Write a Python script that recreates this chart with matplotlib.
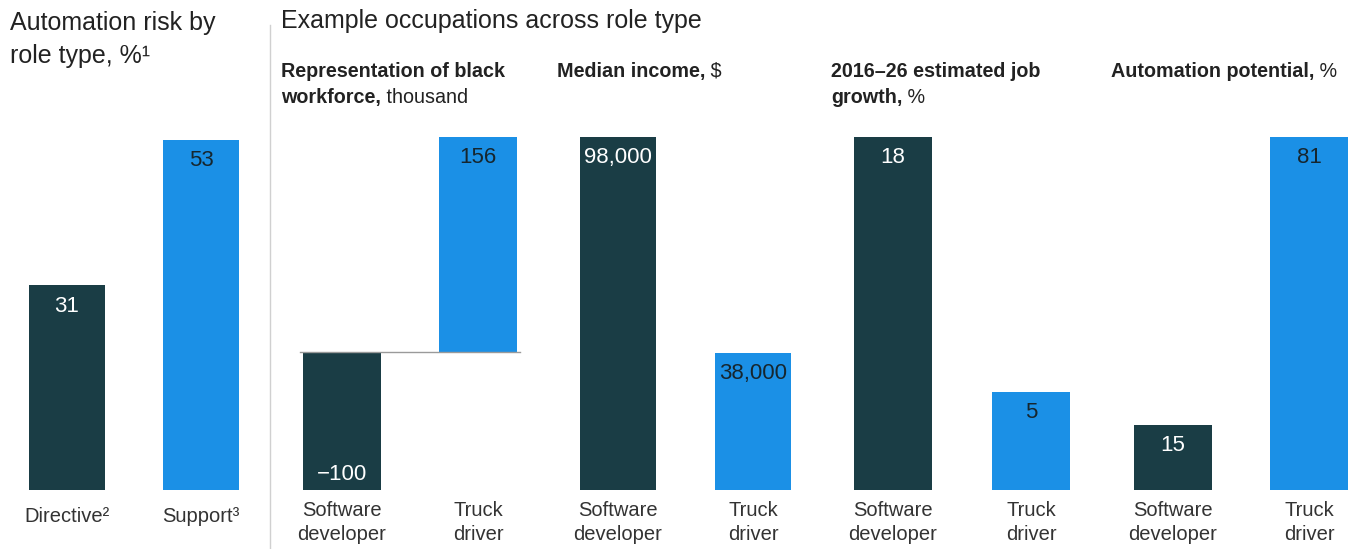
import matplotlib
matplotlib.use("Agg")
import matplotlib.pyplot as plt
from matplotlib.lines import Line2D

W, H = 1359, 549
DPI = 100
plt.rcParams['font.family'] = ['Liberation Sans', 'DejaVu Sans']

DARK = "#1a3d45"
BLUE = "#1b90e6"
INK = "#222222"
ON_BLUE = "#16262e"

# Left panel: automation risk by role type
role_types = ["Directive\u00b2", "Support\u00b3"]
role_risk = [31, 53]

# Example occupations
occupations = ["Software\ndeveloper", "Truck\ndriver"]
black_workforce = [-100, 156]
median_income = [98000, 38000]
job_growth = [18, 5]
automation_potential = [15, 81]

fig = plt.figure(figsize=(W / DPI, H / DPI), dpi=DPI)
fig.patch.set_facecolor("white")


def px_axes(center0, gap, top_px=137, base_px=490):
    width = 2 * gap
    left = center0 - gap / 2
    return fig.add_axes([left / W, (H - base_px) / H, width / W, (base_px - top_px) / H])


def fmt_value(v, thousands=False):
    s = f"{abs(v):,}" if thousands else f"{abs(v)}"
    return ("\u2212" + s) if v < 0 else s


def draw_panel(ax, labels, values, ylim, thousands=False, label_pad=8):
    colors = [DARK, BLUE]
    xs = list(range(len(values)))
    ax.bar(xs, values, width=0.57, color=colors, zorder=2)
    ax.set_xlim(-0.5, 1.5)
    ax.set_ylim(*ylim)
    ax.axis("off")
    for x, v, c in zip(xs, values, colors):
        tc = "white" if c == DARK else ON_BLUE
        dy = -15 if v >= 0 else 11
        ax.annotate(fmt_value(v, thousands), xy=(x, v), xytext=(0, dy),
                    textcoords="offset points", ha="center", va="center",
                    fontsize=16, color=tc)
    for x, lab in zip(xs, labels):
        ax.annotate(lab, xy=(x, 0), xycoords=ax.get_xaxis_transform(),
                    xytext=(0, -label_pad), textcoords="offset points",
                    ha="center", va="top", fontsize=14.5, color="#333333",
                    linespacing=1.35, annotation_clip=False)


# Panel 1
ax1 = px_axes(67, 134)
draw_panel(ax1, role_types, role_risk, (0, 53 * 353 / 350), label_pad=12)

# Panel 2
ax2 = px_axes(342, 136)
draw_panel(ax2, occupations, black_workforce, (min(black_workforce), max(black_workforce)))
ax2.plot([-0.31, 1.31], [0, 0], color="#9a9a9a", lw=1, zorder=3)

# Panel 3
ax3 = px_axes(618, 135)
draw_panel(ax3, occupations, median_income, (0, max(median_income)), thousands=True)

# Panel 4
ax4 = px_axes(893, 138)
draw_panel(ax4, occupations, job_growth, (0, max(job_growth)))

# Panel 5
ax5 = px_axes(1173, 136)
draw_panel(ax5, occupations, automation_potential, (0, max(automation_potential)))


def ftext(x, y, s, **kw):
    return fig.text(x / W, 1 - y / H, s, va="baseline", ha="left", color=INK, **kw)


# Headings
ftext(10, 30, "Automation risk by", fontsize=18)
ftext(10, 63, "role type, %\u00b9", fontsize=18)
ftext(281, 28, "Example occupations across role type", fontsize=18)

fig.add_artist(Line2D([270 / W, 270 / W], [1 - 25 / H, 0], color="#d0d0d0", lw=1))

subtitles = [
    (281, [("Representation of black", ""), ("workforce,", " thousand")]),
    (557, [("Median income,", " $")]),
    (831, [("2016\u201326 estimated job", ""), ("growth,", " %")]),
    (1111, [("Automation potential,", " %")]),
]

fig.canvas.draw()
renderer = fig.canvas.get_renderer()
for x0, lines in subtitles:
    for i, (bold, regular) in enumerate(lines):
        y = 77 + 26 * i
        t = ftext(x0, y, bold, fontsize=14.2, fontweight="bold")
        if regular:
            bb = t.get_window_extent(renderer=renderer)
            ftext(bb.x1, y, regular, fontsize=14.2)

fig.savefig("out.png", dpi=DPI, facecolor="white")
